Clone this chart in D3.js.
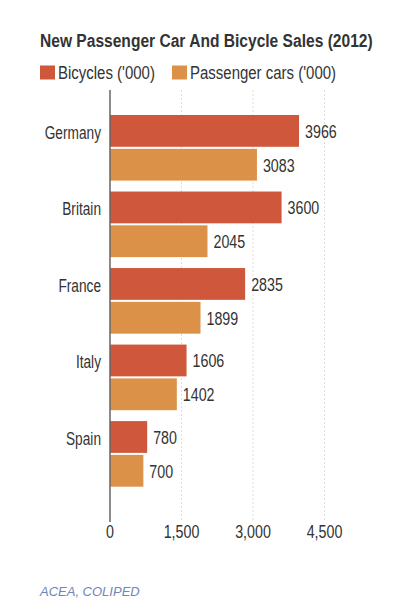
<!DOCTYPE html>
<html>
<head>
<meta charset="utf-8">
<script src="https://cdn.jsdelivr.net/npm/d3@7"></script>
<style>
  body { margin: 0; background: #fff; }
  text { font-family: "Liberation Sans", Arial, sans-serif; fill: #333; }
</style>
</head>
<body>
<div id="chart"></div>
<script>
const countries = ["Germany", "Britain", "France", "Italy", "Spain"];
const bicycles = [3966, 3600, 2835, 1606, 780];
const cars = [3083, 2045, 1899, 1402, 700];
const seriesNames = ["Bicycles ('000)", "Passenger cars ('000)"];
const seriesColors = ["#cf583c", "#dc9149"];
const xTicks = [0, 1500, 3000, 4500];

const rows = countries.map((c, i) => ({ country: c, values: [bicycles[i], cars[i]] }));

// condensed look: squeeze text horizontally around its anchor
const SX = 0.77;
function squeeze(sel, px, py, sx) {
  sel.attr("transform", (d, i) => `translate(${px(d, i)},${py(d, i)}) scale(${sx || SX},1)`);
}

const svg = d3.select("#chart").append("svg")
  .attr("width", 395)
  .attr("height", 606);

const title = svg.append("text")
  .style("font-size", "19px")
  .style("font-weight", "bold")
  .text("New Passenger Car And Bicycle Sales (2012)");
const titleW = title.node().getComputedTextLength();
title.attr("transform", `translate(40,46.5) scale(${333 / titleW},1)`);

// legend
const legendX = [40, 172];
seriesNames.forEach((name, i) => {
  svg.append("rect")
    .attr("x", legendX[i])
    .attr("y", 65.5)
    .attr("width", 15)
    .attr("height", 14)
    .attr("fill", seriesColors[i]);
  svg.append("text")
    .style("font-size", "18.5px")
    .call(squeeze, () => legendX[i] + 18, () => 79, 0.81)
    .text(name);
});

const x = d3.scaleLinear().domain([0, 4500]).range([110, 324.5]);
const y = d3.scaleBand().domain(countries).range([115, 486.7]).paddingInner(0.1427);
const ySub = d3.scaleBand().domain([0, 1]).range([0, y.bandwidth()]).paddingInner(0.06);

// dotted gridlines
svg.append("g")
  .selectAll("line")
  .data(xTicks.slice(1))
  .enter().append("line")
  .attr("x1", d => x(d))
  .attr("x2", d => x(d))
  .attr("y1", 90)
  .attr("y2", 522)
  .attr("stroke", "#dcdcdc")
  .attr("stroke-dasharray", "2,2");

// bars
const groups = svg.append("g")
  .selectAll("g")
  .data(rows)
  .enter().append("g")
  .attr("transform", d => `translate(0,${y(d.country)})`);

groups.selectAll("rect")
  .data(d => d.values)
  .enter().append("rect")
  .attr("x", x(0))
  .attr("y", (d, i) => ySub(i))
  .attr("width", d => x(d) - x(0))
  .attr("height", ySub.bandwidth())
  .attr("fill", (d, i) => seriesColors[i]);

groups.selectAll("text.value")
  .data(d => d.values)
  .enter().append("text")
  .attr("class", "value")
  .attr("dy", "0.37em")
  .style("font-size", "18.5px")
  .call(squeeze, d => x(d) + 6, (d, i) => ySub(i) + ySub.bandwidth() / 2)
  .text(d => d);

groups.append("text")
  .attr("dy", "0.42em")
  .attr("text-anchor", "end")
  .style("font-size", "18.5px")
  .call(squeeze, () => 101, () => ySub(0) + ySub.bandwidth() / 2, 0.74)
  .text(d => d.country);

// axis line
svg.append("line")
  .attr("x1", x(0))
  .attr("x2", x(0))
  .attr("y1", 90)
  .attr("y2", 522)
  .attr("stroke", "#666")
  .attr("stroke-width", 1.5);

// tick labels
svg.append("g")
  .selectAll("text")
  .data(xTicks)
  .enter().append("text")
  .attr("text-anchor", "middle")
  .style("font-size", "18.5px")
  .call(squeeze, d => x(d), () => 538)
  .text(d => d3.format(",")(d));

svg.append("text")
  .attr("x", 40)
  .attr("y", 596)
  .style("font-size", "13px")
  .style("font-style", "italic")
  .style("fill", "#6f86b8")
  .text("ACEA, COLIPED");
</script>
</body>
</html>
